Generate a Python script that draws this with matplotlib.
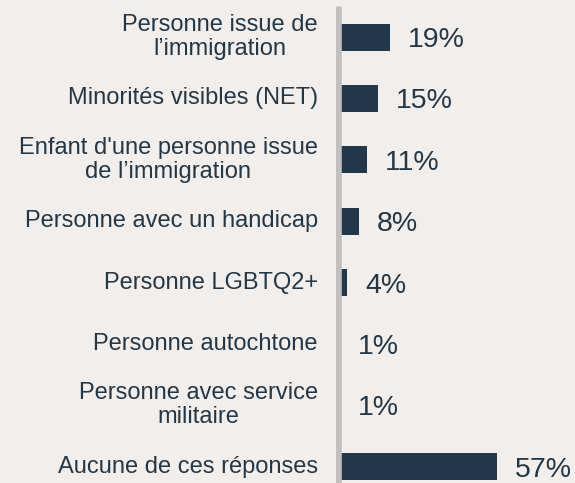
import matplotlib.pyplot as plt

# --- data ---
labels = [
    "Personne issue de\nl\u2019immigration",
    "Minorit\u00e9s visibles (NET)",
    "Enfant d'une personne issue\nde l\u2019immigration",
    "Personne avec un handicap",
    "Personne LGBTQ2+",
    "Personne autochtone",
    "Personne avec service\nmilitaire",
    "Aucune de ces r\u00e9ponses",
]
values = [19, 15, 11, 8, 4, 1, 1, 57]
value_labels = ["19%", "15%", "11%", "8%", "4%", "1%", "1%", "57%"]

bg = "#f2eeeb"
bar_color = "#22374a"
text_color = "#243746"

plt.rcParams["font.family"] = ["Liberation Sans", "DejaVu Sans"]

fig = plt.figure(figsize=(5.75, 4.83), dpi=100, facecolor=bg)
# axes starts where the zero of the value scale sits
ax = fig.add_axes([336 / 575, 0, 1 - 336 / 575, 1])
ax.set_facecolor(bg)

pos = list(range(len(values)))
ax.barh(pos, values, height=0.44, color=bar_color, zorder=2)

ax.set_xlim(0, 84.5)
ax.set_ylim(7.264, -0.603)

# grey axis line
ax.vlines(0.5, -0.505, 7.4, color="#c1c0be", linewidth=6.2, zorder=3)

for i, (lab, v, vl) in enumerate(zip(labels, values, value_labels)):
    ax.text(-6.4, i, lab, ha="right", va="center", multialignment="center",
            fontsize=17, color=text_color, linespacing=1.12, clip_on=False)
    ax.text(max(v, 1.5) + 6.3, i, vl, ha="left", va="center_baseline",
            fontsize=20.5, color=text_color, clip_on=False)

ax.axis("off")
fig.savefig("out.png", dpi=100, facecolor=bg)
